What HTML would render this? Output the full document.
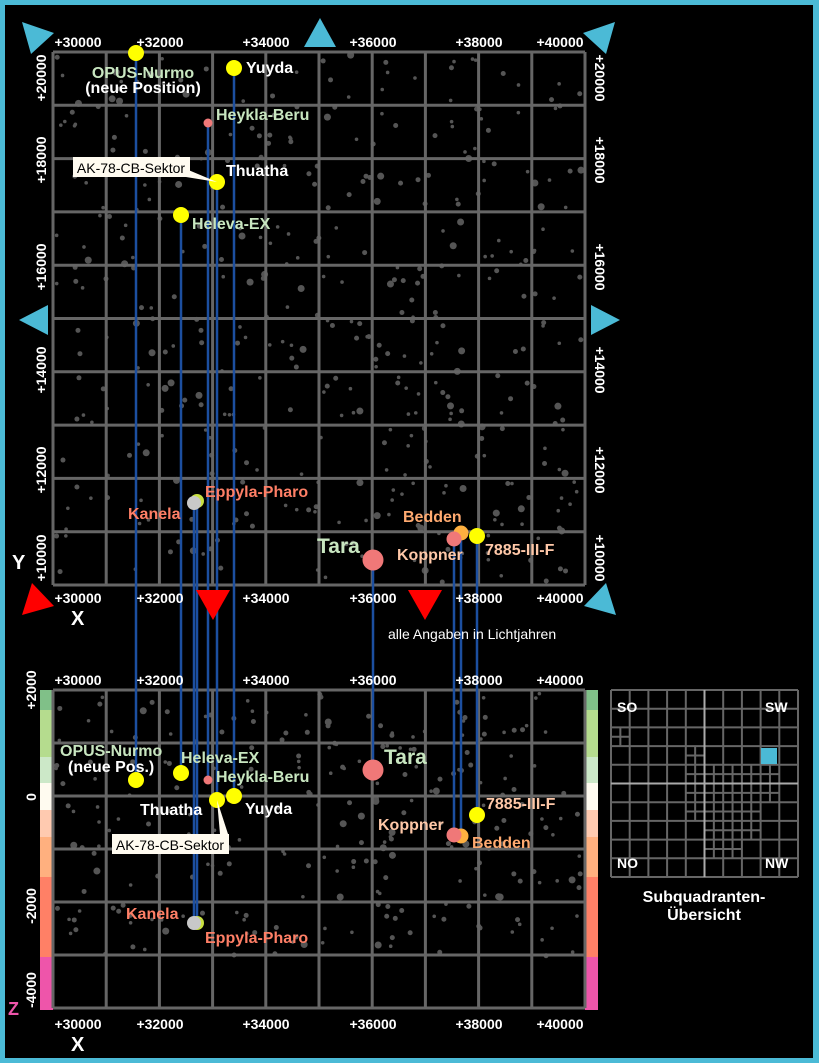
<!DOCTYPE html>
<html><head><meta charset="utf-8"><style>
html,body{margin:0;padding:0;background:#000}
svg{display:block}
text{font-family:"Liberation Sans",sans-serif;font-weight:bold}
</style></head><body>
<svg id="s" width="819" height="1063" viewBox="0 0 819 1063" xmlns="http://www.w3.org/2000/svg">
<rect x="0" y="0" width="819" height="1063" fill="#4bbad6"/>
<rect x="5" y="5" width="808" height="1053" fill="#000"/>
<g id="dots1"></g><g id="dots2"></g>
<g id="zbars"></g>
<g id="grids" stroke="#666" stroke-width="3" fill="none"></g>
<g stroke="#1c4fa0" stroke-width="2.5">
<line x1="136" y1="53" x2="136" y2="780"/>
<line x1="181" y1="215" x2="181" y2="773"/>
<line x1="194" y1="503" x2="194" y2="923"/>
<line x1="197" y1="502" x2="197" y2="923"/>
<line x1="208" y1="123" x2="208" y2="780"/>
<line x1="217" y1="182" x2="217" y2="800"/>
<line x1="234" y1="68" x2="234" y2="796"/>
<line x1="373" y1="560" x2="373" y2="770"/>
<line x1="454" y1="539" x2="454" y2="835"/>
<line x1="461" y1="533" x2="461" y2="836"/>
<line x1="477" y1="536" x2="477" y2="815"/>
</g>
<circle cx="136" cy="53" r="8" fill="#ffff00"/>
<circle cx="234" cy="68" r="8" fill="#ffff00"/>
<circle cx="208" cy="123" r="4.5" fill="#f07878"/>
<circle cx="217" cy="182" r="8" fill="#ffff00"/>
<circle cx="181" cy="215" r="8" fill="#ffff00"/>
<circle cx="197" cy="501" r="7" fill="#c8e040"/>
<circle cx="194" cy="503" r="7" fill="#c8c8c8"/>
<circle cx="461" cy="533" r="7.5" fill="#ffb040"/>
<circle cx="454" cy="539" r="7.5" fill="#f07878"/>
<circle cx="477" cy="536" r="8" fill="#ffff00"/>
<circle cx="373" cy="560" r="10.5" fill="#f07878"/>
<circle cx="136" cy="780" r="8" fill="#ffff00"/>
<circle cx="181" cy="773" r="8" fill="#ffff00"/>
<circle cx="208" cy="780" r="4.5" fill="#f07878"/>
<circle cx="217" cy="800" r="8" fill="#ffff00"/>
<circle cx="234" cy="796" r="8" fill="#ffff00"/>
<circle cx="373" cy="770" r="10.5" fill="#f07878"/>
<circle cx="477" cy="815" r="8" fill="#ffff00"/>
<circle cx="461" cy="836" r="7.5" fill="#ffb040"/>
<circle cx="454" cy="835" r="7.5" fill="#f07878"/>
<circle cx="197" cy="923" r="7" fill="#c8e040"/>
<circle cx="194" cy="923" r="7" fill="#c8c8c8"/>
<polygon points="186,169 217,182 186,177" fill="#fffbf0"/>
<rect x="73" y="157" width="117" height="20" fill="#fffbf0"/>
<text x="131" y="173" font-size="14" fill="#000" text-anchor="middle" style="font-weight:normal">AK-78-CB-Sektor</text>
<polygon points="217,800 228,834 220,834" fill="#fffbf0"/>
<rect x="112" y="834" width="117" height="20" fill="#fffbf0"/>
<text x="170" y="850" font-size="14" fill="#000" text-anchor="middle" style="font-weight:normal">AK-78-CB-Sektor</text>
<g font-size="16">
<text x="143" y="78" fill="#c8e6c0" text-anchor="middle">OPUS-Nurmo</text>
<text x="143" y="93" fill="#fff" text-anchor="middle">(neue Position)</text>
<text x="246" y="73" fill="#fff">Yuyda</text>
<text x="216" y="120" fill="#c8e6c0">Heykla-Beru</text>
<text x="226" y="176" fill="#fff">Thuatha</text>
<text x="192" y="229" fill="#c8e6c0">Heleva-EX</text>
<text x="205" y="497" fill="#ff7f66">Eppyla-Pharo</text>
<text x="128" y="519" fill="#ff7f66">Kanela</text>
<text x="403" y="522" fill="#ffaa70">Bedden</text>
<text x="397" y="560" fill="#ffc8a8">Koppner</text>
<text x="485" y="555" fill="#ffc8a8">7885-III-F</text>
<text x="317" y="553" fill="#c8e6c0" font-size="21">Tara</text>
<text x="60" y="756" fill="#c8e6c0">OPUS-Nurmo</text>
<text x="68" y="772" fill="#fff">(neue Pos.)</text>
<text x="181" y="763" fill="#c8e6c0">Heleva-EX</text>
<text x="216" y="782" fill="#c8e6c0">Heykla-Beru</text>
<text x="140" y="815" fill="#fff">Thuatha</text>
<text x="245" y="814" fill="#fff">Yuyda</text>
<text x="126" y="919" fill="#ff7f66">Kanela</text>
<text x="205" y="943" fill="#ff7f66">Eppyla-Pharo</text>
<text x="384" y="764" fill="#c8e6c0" font-size="21">Tara</text>
<text x="486" y="809" fill="#ffc8a8">7885-III-F</text>
<text x="378" y="830" fill="#ffc8a8">Koppner</text>
<text x="472" y="848" fill="#ffaa70">Bedden</text>
</g>
<text x="388" y="639" fill="#fff" font-size="14" style="font-weight:normal">alle Angaben in Lichtjahren</text>
<text x="12" y="569" fill="#fff" font-size="20">Y</text>
<text x="71" y="625" fill="#fff" font-size="20">X</text>
<text x="71" y="1051" fill="#fff" font-size="20">X</text>
<text x="8" y="1015" fill="#ee55aa" font-size="18">Z</text>
<g id="axlabels" font-size="14" fill="#fff"></g>
<g fill="#4bbad6">
<polygon points="22,22 54,33 31,54"/>
<polygon points="320,18 304,47 336,47"/>
<polygon points="615,22 583,33 606,54"/>
<polygon points="19,320 48,305 48,335"/>
<polygon points="620,320 591,305 591,335"/>
<polygon points="616,615 584,606 606,583"/>
</g>
<g fill="#f00">
<polygon points="22,615 54,606 32,583"/>
<polygon points="196,590 230,590 213,620"/>
<polygon points="408,590 442,590 425,620"/>
</g>
<g id="sq" stroke="#666" stroke-width="2" fill="none"></g>
<rect x="761" y="748" width="16" height="16" fill="#4bbad6"/>
<g font-size="14" fill="#fff">
<text x="617" y="712">SO</text><text x="765" y="712">SW</text>
<text x="617" y="868">NO</text><text x="765" y="868">NW</text>
</g>
<text x="704" y="902" fill="#fff" font-size="16" text-anchor="middle">Subquadranten-</text>
<text x="704" y="920" fill="#fff" font-size="16" text-anchor="middle">Übersicht</text>
</svg>
<script>
var NS="http://www.w3.org/2000/svg";
function el(p,n,a,t){var e=document.createElementNS(NS,n);for(var k in a)e.setAttribute(k,a[k]);if(t!==undefined)e.textContent=t;document.getElementById(p).appendChild(e);return e;}
var seed=7;function rnd(){seed=(seed*16807)%2147483647;return seed/2147483647;}
for(var i=0;i<420;i++){var r=rnd()<0.1?3.5:(rnd()<0.5?2.5:1.8);el("dots1","circle",{cx:55+rnd()*528,cy:54+rnd()*528,r:r,fill:"#555"});}
for(var i=0;i<250;i++){var r=rnd()<0.1?3.5:(rnd()<0.5?2.5:1.8);el("dots2","circle",{cx:55+rnd()*528,cy:692+rnd()*264,r:r,fill:"#555"});}
var zc=[[690,710,"#80c088"],[710,757,"#b5dc8e"],[757,783,"#cce8c8"],[783,810,"#fffbf0"],[810,837,"#ffcab0"],[837,877,"#ffb07f"],[877,957,"#ff8066"],[957,1010,"#ee55aa"]];
zc.forEach(function(c){el("zbars","rect",{x:40,y:c[0],width:13,height:c[1]-c[0],fill:c[2]});el("zbars","rect",{x:585,y:c[0],width:13,height:c[1]-c[0],fill:c[2]});});
for(var i=0;i<=10;i++){var x=53+i*53.2;el("grids","line",{x1:x,y1:52,x2:x,y2:585});el("grids","line",{x1:53,y1:52+i*53.3,x2:585,y2:52+i*53.3});el("grids","line",{x1:x,y1:690,x2:x,y2:1008});}
for(var j=0;j<=6;j++){var y=690+j*53;el("grids","line",{x1:53,y1:y,x2:585,y2:y});}
var xs=[[78,"+30000"],[160,"+32000"],[266,"+34000"],[373,"+36000"],[479,"+38000"],[560,"+40000"]];
xs.forEach(function(v){el("axlabels","text",{x:v[0],y:47,"text-anchor":"middle"},v[1]);el("axlabels","text",{x:v[0],y:603,"text-anchor":"middle"},v[1]);el("axlabels","text",{x:v[0],y:685,"text-anchor":"middle"},v[1]);el("axlabels","text",{x:v[0],y:1029,"text-anchor":"middle"},v[1]);});
var ys=[[78,"+20000"],[160,"+18000"],[267,"+16000"],[370,"+14000"],[470,"+12000"],[558,"+10000"]];
ys.forEach(function(v){el("axlabels","text",{transform:"translate(46,"+v[0]+") rotate(-90)","text-anchor":"middle"},v[1]);el("axlabels","text",{transform:"translate(595,"+v[0]+") rotate(90)","text-anchor":"middle"},v[1]);});
var zs=[[690,"+2000"],[797,"0"],[906,"-2000"],[990,"-4000"]];
zs.forEach(function(v){el("axlabels","text",{transform:"translate(36,"+v[0]+") rotate(-90)","text-anchor":"middle"},v[1]);});
var X0=611,Y0=690,S=18.7;
for(var i=0;i<=10;i++){el("sq","line",{x1:X0+i*S,y1:Y0,x2:X0+i*S,y2:Y0+10*S});el("sq","line",{x1:X0,y1:Y0+i*S,x2:X0+10*S,y2:Y0+i*S});}
function sub(c,r){var x=X0+c*S,y=Y0+r*S;el("sq","line",{x1:x+S/2,y1:y,x2:x+S/2,y2:y+S});el("sq","line",{x1:x,y1:y+S/2,x2:x+S,y2:y+S/2});}
sub(0,2);sub(4,3);[[4,4],[5,4],[6,4],[7,4],[8,4],[4,5],[5,5],[6,5],[7,5],[8,5],[4,6],[5,6],[6,6],[7,6],[5,7],[6,7],[7,7],[5,8],[6,8]].forEach(function(p){sub(p[0],p[1]);});
el("sq","line",{x1:X0+5*S,y1:Y0,x2:X0+5*S,y2:Y0+10*S,stroke:"#aaa"});el("sq","line",{x1:X0,y1:Y0+5*S,x2:X0+10*S,y2:Y0+5*S,stroke:"#aaa"});
</script>
</body></html>
